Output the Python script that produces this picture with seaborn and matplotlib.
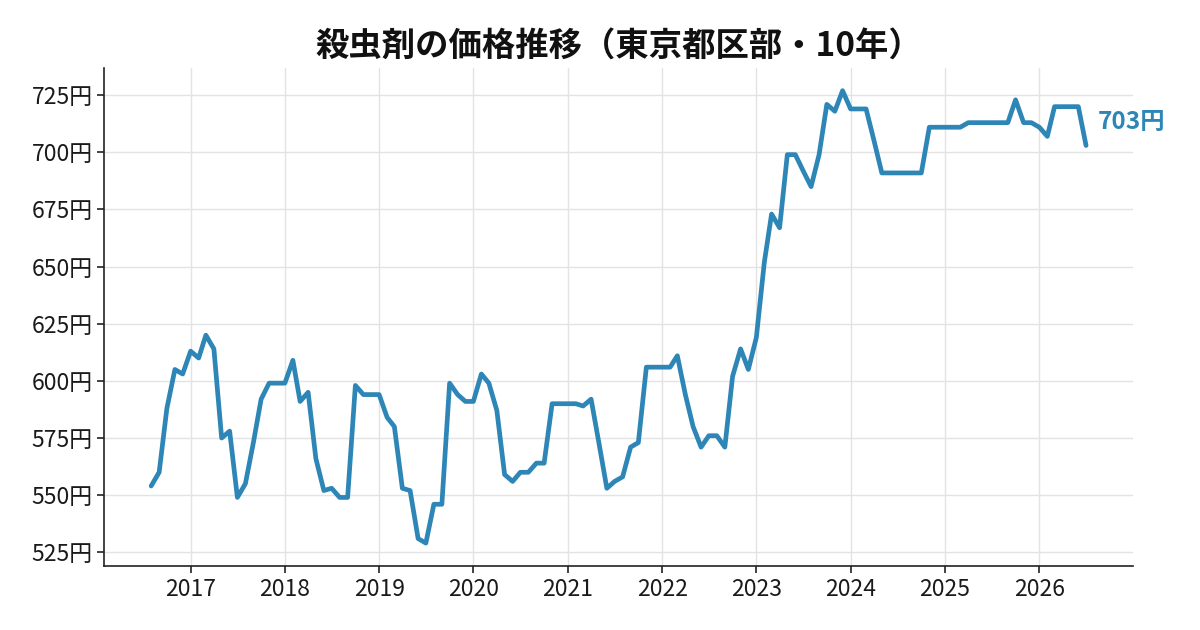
import matplotlib
matplotlib.use("Agg")
import matplotlib.pyplot as plt
import matplotlib.dates as mdates
from matplotlib.ticker import FuncFormatter, MultipleLocator
import seaborn as sns
import pandas as pd

# monthly prices, 2016-08 .. 2026-07
start_month = "2016-08-01"
prices = [
    554, 560, 588, 605, 603,
    613, 610, 620, 614, 575, 578, 549, 555, 573, 592, 599, 599,
    599, 609, 591, 595, 566, 552, 553, 549, 549, 598, 594, 594,
    594, 584, 580, 553, 552, 531, 529, 546, 546, 599, 594, 591,
    591, 603, 599, 587, 559, 556, 560, 560, 564, 564, 590, 590,
    590, 590, 589, 592, 573, 553, 556, 558, 571, 573, 606, 606,
    606, 606, 611, 594, 580, 571, 576, 576, 571, 602, 614, 605,
    619, 652, 673, 667, 699, 699, 692, 685, 699, 721, 718, 727,
    719, 719, 719, 705, 691, 691, 691, 691, 691, 691, 711, 711,
    711, 711, 711, 713, 713, 713, 713, 713, 713, 723, 713, 713,
    711, 707, 720, 720, 720, 720, 703,
]
months = pd.date_range(start_month, periods=len(prices), freq="MS")
df = pd.DataFrame({"month": months, "price": prices})

title = "殺虫剤の価格推移（東京都区部・10年）"
line_color = "#2e86b7"

sns.set_theme(style="whitegrid")
plt.rcParams["font.family"] = ["Noto Sans CJK JP", "DejaVu Sans"]

fig, ax = plt.subplots(figsize=(12, 6.3), dpi=100)
sns.lineplot(data=df, x="month", y="price", color=line_color, linewidth=3.4, ax=ax)

ax.set_title(title, fontsize=24, fontweight="bold", pad=8, color="#111111")
ax.set_xlabel("")
ax.set_ylabel("")

ax.xaxis.set_major_locator(mdates.YearLocator())
ax.xaxis.set_major_formatter(mdates.DateFormatter("%Y"))
ax.yaxis.set_major_locator(MultipleLocator(25))
ax.yaxis.set_major_formatter(FuncFormatter(lambda v, p: f"{v:.0f}円"))
ax.tick_params(axis="both", labelsize=16.5, length=5, width=1.2, color="#222222",
               labelcolor="#1a1a1a", bottom=True, left=True)

ax.grid(True, color="#e3e3e3", linewidth=1)
for side in ["top", "right"]:
    ax.spines[side].set_visible(False)
for side in ["left", "bottom"]:
    ax.spines[side].set_color("#222222")
    ax.spines[side].set_linewidth(1.2)

last = df.iloc[-1]
ax.annotate(f"{last['price']}円", xy=(last["month"], last["price"]),
            xytext=(8.5, 17), textcoords="offset points", ha="left", va="center",
            fontsize=17.5, fontweight="bold", color=line_color)

fig.subplots_adjust(left=0.087, right=0.944, top=0.892, bottom=0.102)
fig.savefig("out.png", dpi=100)
